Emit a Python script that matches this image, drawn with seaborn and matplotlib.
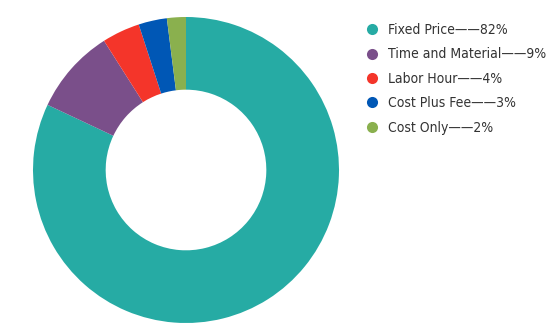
import matplotlib
matplotlib.use("Agg")
import matplotlib.pyplot as plt
from matplotlib.lines import Line2D
from matplotlib.font_manager import FontProperties
import seaborn as sns

categories = ["Fixed Price", "Time and Material", "Labor Hour", "Cost Plus Fee", "Cost Only"]
values = [82, 9, 4, 3, 2]
colors = ["#26ABA4", "#7A4F8A", "#F4352A", "#0057B5", "#8AB04E"]

sns.set_theme(style="white")
plt.rcParams['font.family'] = ['DejaVu Sans']

W, H = 558, 332
fig = plt.figure(figsize=(W / 100, H / 100), dpi=100)
cx, cy, r = 186, 170, 153
ax = fig.add_axes([(cx - r) / W, (H - cy - r) / H, 2 * r / W, 2 * r / H])
ax.pie(values, colors=colors, startangle=90, counterclock=False, radius=1,
       wedgeprops=dict(width=0.475, edgecolor="none"))
ax.set_xlim(-1, 1)
ax.set_ylim(-1, 1)
ax.axis("off")

fp = FontProperties(family="DejaVu Sans", stretch="condensed", size=10)
handles = [Line2D([0], [0], marker="o", linestyle="none", markersize=8,
                  markerfacecolor=c, markeredgecolor="none") for c in colors]
labels = [f"{c}\u2014\u2014{v}%" for c, v in zip(categories, values)]
fig.legend(handles, labels, loc="upper left", bbox_to_anchor=(364 / W, 1 - 23 / H),
           frameon=False, prop=fp, labelspacing=0.75, handletextpad=0.55,
           handlelength=1.2, labelcolor="#333333", borderaxespad=0, borderpad=0)

fig.savefig("out.png", dpi=100)
